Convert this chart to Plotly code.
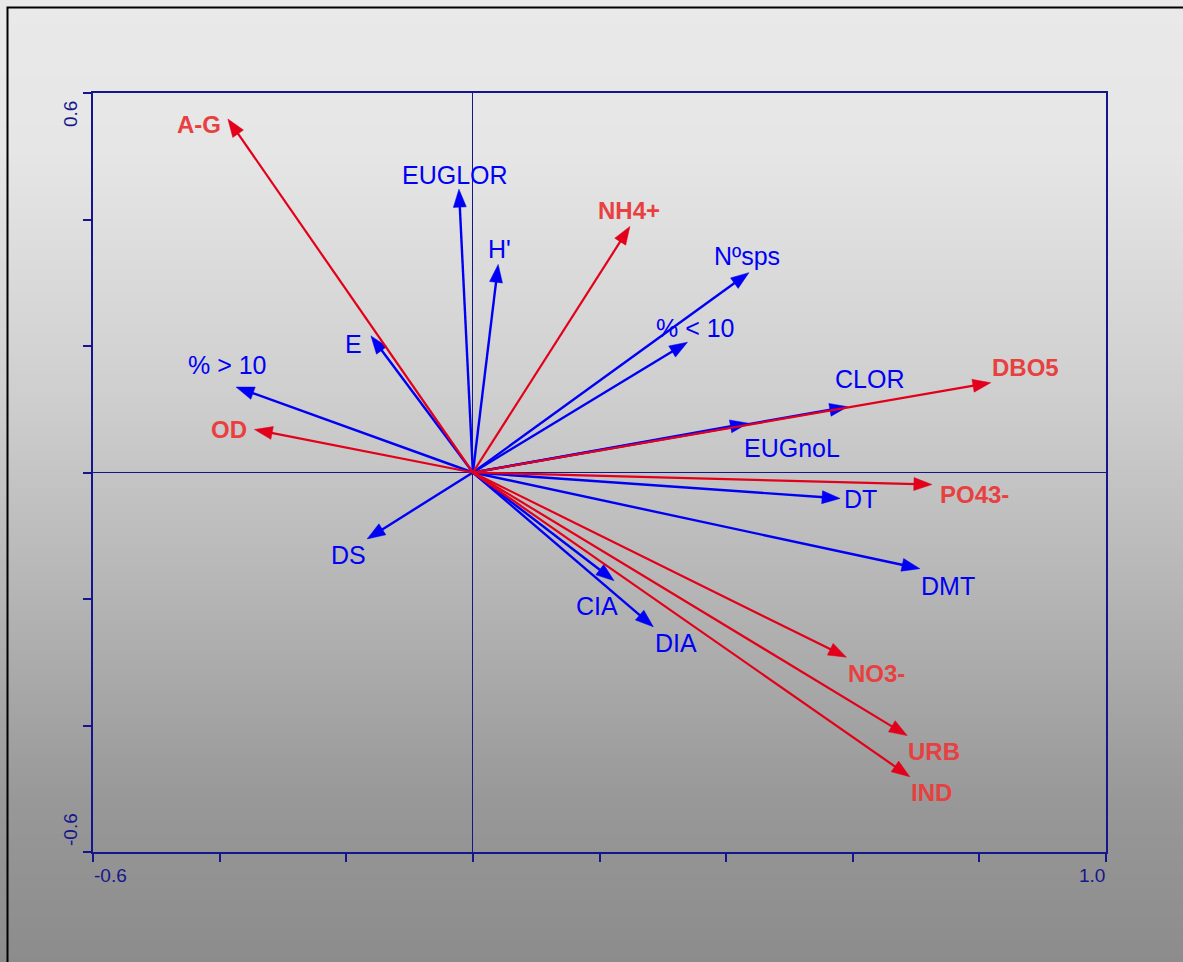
import base64
import struct
import zlib

import numpy as np
import plotly.graph_objects as go

# ---- ordination scores (axis 1, axis 2) ----
# biological descriptors (blue vectors)
bio_labels = ["EUGLOR", "H'", "Nºsps", "% < 10", "E", "% > 10", "CLOR",
              "EUGnoL", "DT", "DMT", "DS", "CIA", "DIA"]
bio_x = [-0.022, 0.040, 0.436, 0.339, -0.161, -0.374, 0.592,
         0.435, 0.580, 0.706, -0.167, 0.223, 0.285]
bio_y = [0.448, 0.329, 0.316, 0.206, 0.216, 0.135, 0.104,
         0.078, -0.041, -0.152, -0.105, -0.171, -0.244]

# environmental variables (red vectors)
env_labels = ["A-G", "NH4+", "DBO5", "OD", "PO43-", "NO3-", "URB", "IND"]
env_x = [-0.387, 0.248, 0.818, -0.345, 0.725, 0.590, 0.686, 0.690]
env_y = [0.559, 0.389, 0.142, 0.068, -0.019, -0.292, -0.416, -0.481]

# axis extent and tick spacing
x_range = [-0.6, 1.0]
y_range = [-0.6, 0.6]
tick_step = 0.2

# ---- label placement: pixel offset of each label centre from its arrow tip ----
bio_label_shift = [(-4, -14), (1, -15), (-2, -17), (8, -14), (-17, 8), (-9, -22),
                   (22, -28), (44, 25), (20, 1), (28, 17), (-19, 16), (-17, 25),
                   (23, 16)]
env_label_shift = [(-29, 6), (-1, -16), (35, -15), (-25, 0), (43, 10),
                   (30, 16), (27, 16), (22, 16)]

# ---- page geometry ----
W, H = 1183, 962
M_L, M_R, M_T, M_B = 93, 77, 93, 110
PLOT_W = W - M_L - M_R
PLOT_H = H - M_T - M_B
SX = PLOT_W / (x_range[1] - x_range[0])   # px per unit along x
SY = PLOT_H / (y_range[1] - y_range[0])   # px per unit along y

NAVY = "#16168c"
BLUE = "#0000f5"
RED_LINE = "#e2001a"
RED_TEXT = "#e84040"
FONT = "Liberation Sans, Arial, sans-serif"


def gray_column_png(levels):
    """Tiny 1-px-wide grayscale PNG used as the vertical background gradient."""
    raw = b"".join(b"\x00" + bytes([int(v)]) for v in levels)

    def chunk(tag, data):
        body = tag + data
        return struct.pack(">I", len(data)) + body + struct.pack(">I", zlib.crc32(body) & 0xFFFFFFFF)

    ihdr = struct.pack(">IIBBBBB", 1, len(levels), 8, 0, 0, 0, 0)
    png = (b"\x89PNG\r\n\x1a\n" + chunk(b"IHDR", ihdr)
           + chunk(b"IDAT", zlib.compress(raw, 9)) + chunk(b"IEND", b""))
    return "data:image/png;base64," + base64.b64encode(png).decode()


rows = np.arange(H)
shade = np.interp(rows, [0, 150, 400, 600, 800, H - 1], [233, 230, 206, 180, 152, 140])
background = gray_column_png(np.round(shade).astype(int))


def px_to_paper_x(px):
    return (px - M_L) / PLOT_W


def px_to_paper_y(py):
    return (H - M_B - py) / PLOT_H


def vectors(xs, ys, head_len=18.0, head_half=6.5):
    """Shaft polylines and triangular heads for vectors drawn from the origin."""
    lx, ly, hx, hy = [], [], [], []
    for x, y in zip(xs, ys):
        px, py = x * SX, y * SY
        L = np.hypot(px, py)
        ux, uy = px / L, py / L
        bx, by = px - head_len * ux, py - head_len * uy
        lx += [0, (bx + 2 * ux) / SX, None]
        ly += [0, (by + 2 * uy) / SY, None]
        c1 = (bx - head_half * uy, by + head_half * ux)
        c2 = (bx + head_half * uy, by - head_half * ux)
        hx += [x, c1[0] / SX, c2[0] / SX, x, None]
        hy += [y, c1[1] / SY, c2[1] / SY, y, None]
    return lx, ly, hx, hy


fig = go.Figure()

for xs, ys, line_col, width in [(bio_x, bio_y, BLUE, 2.4), (env_x, env_y, RED_LINE, 2.2)]:
    lx, ly, hx, hy = vectors(xs, ys)
    fig.add_trace(go.Scatter(x=lx, y=ly, mode="lines",
                             line=dict(color=line_col, width=width),
                             hoverinfo="skip", showlegend=False))
    fig.add_trace(go.Scatter(x=hx, y=hy, mode="lines", fill="toself",
                             fillcolor=line_col, line=dict(color=line_col, width=0.5),
                             hoverinfo="skip", showlegend=False))

annotations = []
for labels, xs, ys, shifts, col, bold, size in [
    (bio_labels, bio_x, bio_y, bio_label_shift, BLUE, False, 25),
    (env_labels, env_x, env_y, env_label_shift, RED_TEXT, True, 24),
]:
    for lab, x, y, (dx, dy) in zip(labels, xs, ys, shifts):
        annotations.append(dict(
            x=x, y=y, xref="x", yref="y", text=f"<b>{lab}</b>" if bold else lab,
            showarrow=False, xanchor="center", yanchor="middle",
            xshift=dx, yshift=-dy, font=dict(family=FONT, size=size, color=col)))

# end-of-axis tick labels
tick_font = dict(family=FONT, size=19, color=NAVY)
annotations += [
    dict(x=x_range[0], y=y_range[0], xref="x", yref="y", text=f"{x_range[0]:.1f}",
         showarrow=False, xanchor="left", yanchor="middle", xshift=-1, yshift=-23, font=tick_font),
    dict(x=x_range[1], y=y_range[0], xref="x", yref="y", text=f"{x_range[1]:.1f}",
         showarrow=False, xanchor="right", yanchor="middle", xshift=1, yshift=-23, font=tick_font),
    dict(x=x_range[0], y=y_range[1], xref="x", yref="y", text=f"{y_range[1]:.1f}",
         showarrow=False, textangle=-90, xanchor="center", yanchor="middle",
         xshift=-23, yshift=-21, font=tick_font),
    dict(x=x_range[0], y=y_range[0], xref="x", yref="y", text=f"{y_range[0]:.1f}",
         showarrow=False, textangle=-90, xanchor="center", yanchor="middle",
         xshift=-23, yshift=22, font=tick_font),
]

axis_common = dict(
    showgrid=False, showticklabels=False,
    showline=True, linecolor=NAVY, linewidth=2, mirror=True,
    zeroline=True, zerolinecolor=NAVY, zerolinewidth=1,
    ticks="outside", ticklen=8, tickwidth=2, tickcolor=NAVY,
    tickmode="linear", dtick=tick_step,
)

fig.update_layout(
    width=W, height=H,
    margin=dict(l=M_L, r=M_R, t=M_T, b=M_B),
    paper_bgcolor="#bdbdbd",
    plot_bgcolor="rgba(0,0,0,0)",
    xaxis=dict(range=x_range, tick0=x_range[0], **axis_common),
    yaxis=dict(range=y_range, tick0=y_range[0], **axis_common),
    annotations=annotations,
    images=[dict(source=background, xref="paper", yref="paper",
                 x=px_to_paper_x(0), y=px_to_paper_y(0),
                 sizex=W / PLOT_W, sizey=H / PLOT_H,
                 xanchor="left", yanchor="top", sizing="stretch", layer="below")],
    shapes=[dict(type="rect", xref="paper", yref="paper",
                 x0=px_to_paper_x(7.5), x1=px_to_paper_x(W + 20),
                 y0=px_to_paper_y(H + 20), y1=px_to_paper_y(7.5),
                 line=dict(color="black", width=2), fillcolor="rgba(0,0,0,0)")],
    showlegend=False,
)

fig.write_html("out.html")
